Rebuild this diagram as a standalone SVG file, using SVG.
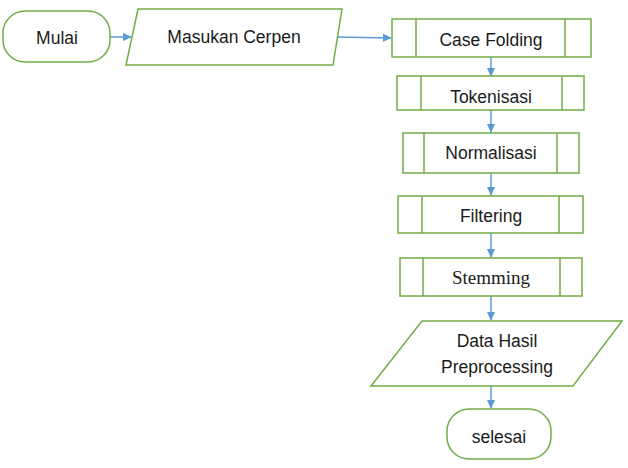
<svg xmlns="http://www.w3.org/2000/svg" width="628" height="468" viewBox="0 0 628 468">
<defs>
<marker id="ah" markerWidth="10" markerHeight="10" refX="8" refY="5" orient="auto" markerUnits="userSpaceOnUse">
<path d="M0,1 L9,5 L0,9 Z" fill="#5b9bd5"/>
</marker>
</defs>
<style>
.sh{fill:#fff;stroke:#70ad47;stroke-width:1.5}
.ln{stroke:#70ad47;stroke-width:1.5}
.t{font-family:"Liberation Sans",Arial,sans-serif;font-size:17.5px;fill:#1a1a1a;text-anchor:middle}
.ts{font-family:"Liberation Serif","Times New Roman",serif;font-size:19px;fill:#1a1a1a;text-anchor:middle}
.c{stroke:#5b9bd5;stroke-width:1.5;fill:none;marker-end:url(#ah)}
</style>
<rect width="628" height="468" fill="#fff"/>
<g id="connectors">
<line class="c" x1="110" y1="37" x2="131" y2="37"/>
<line class="c" x1="337" y1="37" x2="391" y2="38"/>
<line class="c" x1="491" y1="57" x2="491" y2="76"/>
<line class="c" x1="491" y1="110" x2="491" y2="132"/>
<line class="c" x1="491" y1="173" x2="491" y2="195"/>
<line class="c" x1="491" y1="233" x2="491" y2="257"/>
<line class="c" x1="491" y1="296" x2="491" y2="320"/>
<line class="c" x1="491" y1="386" x2="491" y2="408"/>
</g>
<g id="mulai">
<rect class="sh" x="3" y="11" width="107" height="51" rx="22"/>
<text class="t" x="57" y="44">Mulai</text>
</g>
<g id="masukan">
<polygon class="sh" points="138,9 342,9 333,65 126,65"/>
<text class="t" x="234" y="43">Masukan Cerpen</text>
</g>
<g id="casefolding">
<rect class="sh" x="392" y="19" width="199" height="38"/>
<line class="ln" x1="416" y1="19" x2="416" y2="57"/>
<line class="ln" x1="565" y1="19" x2="565" y2="57"/>
<text class="t" x="491" y="46">Case Folding</text>
</g>
<g id="tokenisasi">
<rect class="sh" x="397" y="76" width="187" height="34"/>
<line class="ln" x1="421" y1="76" x2="421" y2="110"/>
<line class="ln" x1="562" y1="76" x2="562" y2="110"/>
<text class="t" x="491" y="103">Tokenisasi</text>
</g>
<g id="normalisasi">
<rect class="sh" x="403" y="133" width="176" height="40"/>
<line class="ln" x1="424" y1="133" x2="424" y2="173"/>
<line class="ln" x1="557" y1="133" x2="557" y2="173"/>
<text class="t" x="491" y="159">Normalisasi</text>
</g>
<g id="filtering">
<rect class="sh" x="398" y="196" width="185" height="37"/>
<line class="ln" x1="422" y1="196" x2="422" y2="233"/>
<line class="ln" x1="559" y1="196" x2="559" y2="233"/>
<text class="t" x="491" y="222">Filtering</text>
</g>
<g id="stemming">
<rect class="sh" x="400" y="258" width="182" height="38"/>
<line class="ln" x1="423" y1="258" x2="423" y2="296"/>
<line class="ln" x1="560" y1="258" x2="560" y2="296"/>
<text class="ts" x="491" y="284">Stemming</text>
</g>
<g id="datahasil">
<polygon class="sh" points="422,321 622,321 573,386 371,386"/>
<text class="t" x="497" y="347">Data Hasil</text>
<text class="t" x="497" y="373">Preprocessing</text>
</g>
<g id="selesai">
<rect class="sh" x="447" y="409" width="104" height="50" rx="22"/>
<text class="t" x="499" y="443">selesai</text>
</g>
</svg>
